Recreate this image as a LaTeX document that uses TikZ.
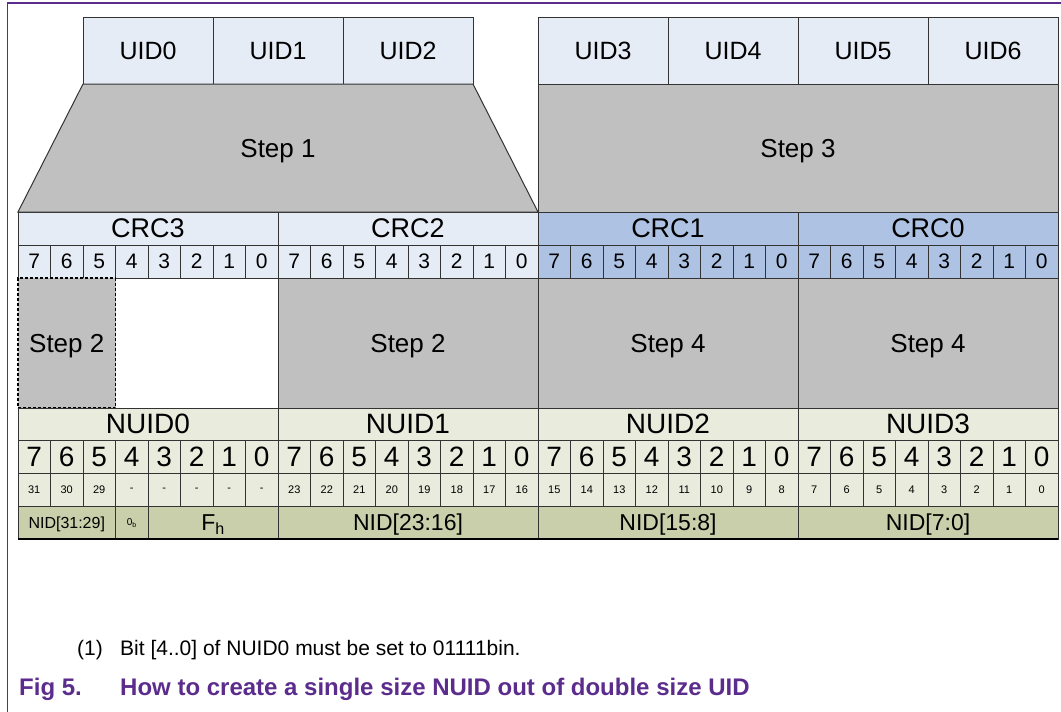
\documentclass[tikz,border=0pt]{standalone}
\usepackage{fontspec}
\setmainfont{Liberation Sans}
\usepackage{tikz}
\usetikzlibrary{calc}
\definecolor{uidblue}{RGB}{230,236,246}
\definecolor{crcblue}{RGB}{174,195,228}
\definecolor{stepgray}{RGB}{192,192,192}
\definecolor{nuidgreen}{RGB}{233,235,221}
\definecolor{nidgreen}{RGB}{200,207,170}
\definecolor{framepurple}{RGB}{92,44,140}
\newcommand{\fs}[1]{\fontsize{#1}{#1}\selectfont}
\tikzset{
	cellbox/.style={draw=black!80, line width=1pt, anchor=north west, inner sep=0pt, outer sep=0pt, text depth=0pt},
	uidbox/.style={cellbox, fill=uidblue, minimum width=130, minimum height=67, font=\fs{25}},
	bytebox/.style={cellbox, minimum width=260, minimum height=33, font=\fs{27}},
	bitbox/.style={cellbox, minimum width=32.5, minimum height=33},
	stepbox/.style={cellbox, fill=stepgray, font=\fs{26}},
	fieldbox/.style={cellbox, fill=nidgreen, minimum height=33, font=\fs{23}},
}

\begin{document}
\begin{tikzpicture}[x=1pt,y=-1pt]
	\useasboundingbox (0,0) rectangle (1061,712);
	%frame
	\draw [framepurple, line width=1.3pt] (7.5,712) -- (7.5,3) -- (1061,3);
	%uid bytes
	\foreach \n in {0,1,2}
		\node at (83+130*\n,17) (uid\n) [uidbox] {UID\n};
	\foreach \n in {3,4,5,6}
		\node at (538+130*\n-390,17) (uid\n) [uidbox] {UID\n};
	%crc bytes
	\foreach \n/\b/\c in {3/0/uidblue,2/1/uidblue,1/2/crcblue,0/3/crcblue} {
		\node at (18+260*\b,212) (crc\n) [bytebox, fill=\c] {CRC\n};
		\foreach \k in {7,...,0}
			\node at (18+260*\b+32.5*7-32.5*\k,245) (crc\n-\k) [bitbox, fill=\c, font=\fs{21}] {\k};
	}
	%step 1
	\draw [fill=stepgray, draw=black!80, line width=1pt] (uid0.south west) -- (uid2.south east) -- (crc2.north east) -- (crc3.north west) -- cycle;
	\node at ($(uid1.south)!0.5!(crc3.north east)$) (step1) [font=\fs{26}, text depth=0pt] {Step 1};
	%step 3
	\node at (538,84) (step3) [stepbox, minimum width=520, minimum height=128] {Step 3};
	%step 2 and step 4
	\node at (18,278) (step2a) [stepbox, draw=black, dash pattern=on 3pt off 2pt, line width=1.3pt, minimum width=97.5, minimum height=130] {Step 2};
	\node at (278,278) (step2b) [stepbox, minimum width=260, minimum height=130] {Step 2};
	\node at (538,278) (step4a) [stepbox, minimum width=260, minimum height=130] {Step 4};
	\node at (798,278) (step4b) [stepbox, minimum width=260, minimum height=130] {Step 4};
	%nuid bytes
	\foreach \n in {0,...,3} {
		\node at (18+260*\n,408) (nuid\n) [bytebox, fill=nuidgreen, minimum height=32, font=\fs{28}] {NUID\n};
		\foreach \k in {7,...,0}
			\node at (18+260*\n+32.5*7-32.5*\k,440) (nuid\n-\k) [bitbox, fill=nuidgreen, font=\fs{28}] {\k};
	}
	%nid bit numbers
	\foreach \k/\v in {7/31,6/30,5/29,4/-,3/-,2/-,1/-,0/-}
		\node at (18+32.5*7-32.5*\k,473) (num0-\k) [bitbox, fill=nuidgreen, font=\fs{11}] {\v};
	\foreach \n in {1,2,3}
		\foreach \k in {7,...,0} {
			\pgfmathtruncatemacro{\v}{(3-\n)*8+\k}
			\node at (18+260*\n+32.5*7-32.5*\k,473) (num\n-\k) [bitbox, fill=nuidgreen, font=\fs{11}] {\v};
		}
	%nid fields
	\node at (18,506) (nidhi) [fieldbox, minimum width=97.5, font=\fs{16}] {NID[31:29]};
	\node at (115.5,506) (nidzero) [fieldbox, minimum width=32.5, font=\fs{10}] {0\textsubscript{b}};
	\node at (148,506) (nidf) [fieldbox, minimum width=130] {F\textsubscript{h}};
	\node at (278,506) (nid1) [fieldbox, minimum width=260] {NID[23:16]};
	\node at (538,506) (nid2) [fieldbox, minimum width=260] {NID[15:8]};
	\node at (798,506) (nid3) [fieldbox, minimum width=260] {NID[7:0]};
	\draw [line width=2pt] (nidhi.south west) -- (nid3.south east);
	%note and caption
	\node at (77,655) (notenum) [anchor=base west, inner sep=0pt, font=\fs{21}] {(1)};
	\node at (120,655) (notetext) [anchor=base west, inner sep=0pt, font=\fs{21}] {Bit [4..0] of NUID0 must be set to 01111bin.};
	\node at (19,695) (fignum) [anchor=base west, inner sep=0pt, text=framepurple, font=\bfseries\fs{24}] {Fig 5.};
	\node at (120,695) (figtitle) [anchor=base west, inner sep=0pt, text=framepurple, font=\bfseries\fs{24}] {How to create a single size NUID out of double size UID};
\end{tikzpicture}
\end{document}
